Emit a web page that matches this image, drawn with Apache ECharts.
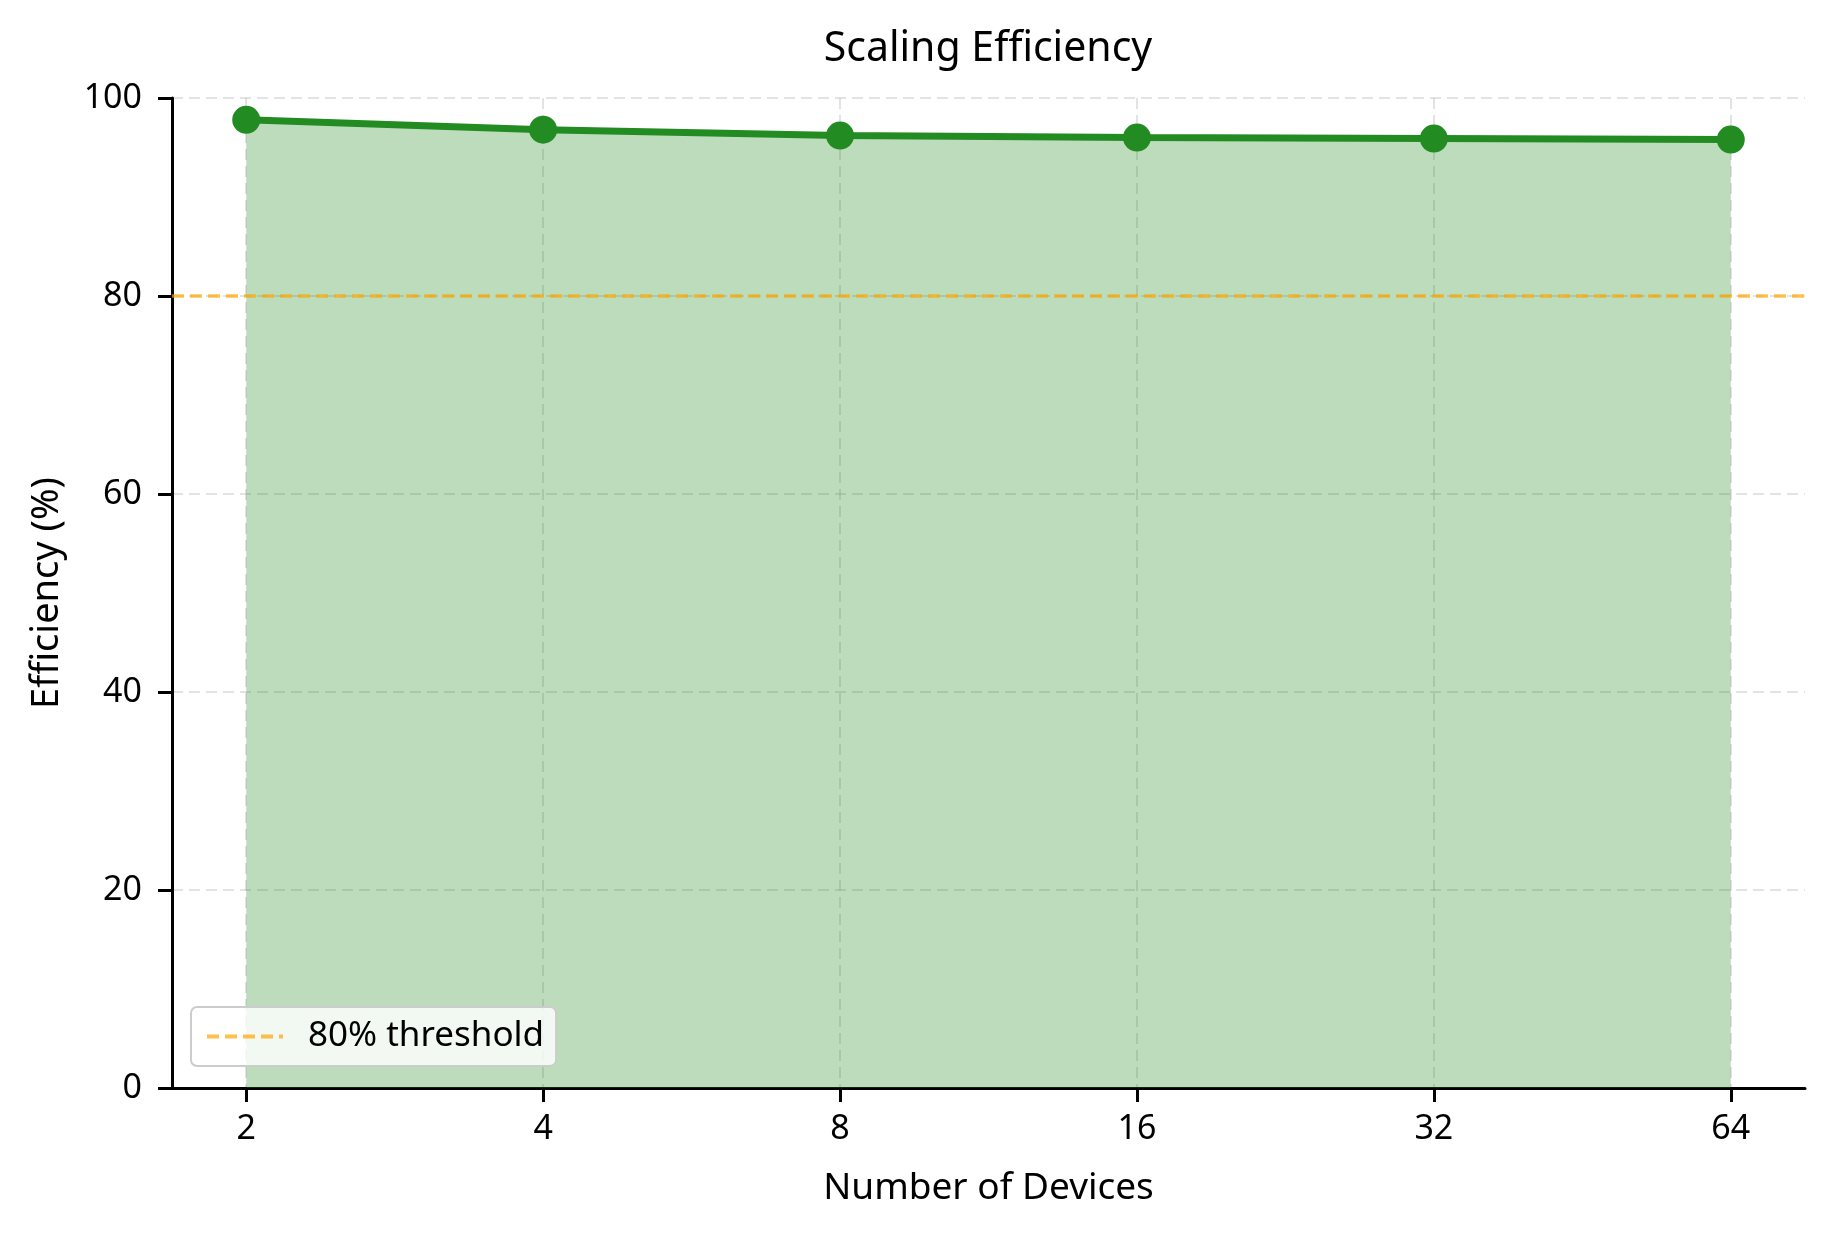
<!DOCTYPE html>
<html>
<head>
<meta charset="utf-8">
<script src="https://cdn.jsdelivr.net/npm/echarts@6/dist/echarts.min.js"></script>
<style>
html,body{margin:0;padding:0;background:#fff;}
#chart{width:1834px;height:1234px;}
</style>
</head>
<body>
<div id="chart"></div>
<script>
// Data
const devices = [2, 4, 8, 16, 32, 64];
const efficiency = [97.8, 96.8, 96.2, 96.0, 95.9, 95.8];
const thresholdValue = 80;
const thresholdLabel = '80% threshold';
const yTicks = [0, 20, 40, 60, 80, 100];

const FONT = '"Noto Sans", "DejaVu Sans", sans-serif';
const xTickVals = devices.map(d => Math.log2(d));
const seriesData = devices.map((d, i) => [Math.log2(d), efficiency[i]]);

const chart = echarts.init(document.getElementById('chart'), null, {renderer: 'canvas'});
chart.setOption({
  backgroundColor: '#ffffff',
  animation: false,
  textStyle: {fontFamily: FONT},
  graphic: [{
    type: 'text',
    x: 988, y: 49,
    style: {
      text: 'Scaling Efficiency',
      font: '41px ' + FONT,
      fill: '#000',
      textAlign: 'center',
      textVerticalAlign: 'middle'
    }
  }],
  grid: {left: 172, right: 29, top: 98, bottom: 146, containLabel: false},
  legend: {
    data: [thresholdLabel],
    left: 191, top: 1007,
    backgroundColor: 'rgba(255,255,255,0.8)',
    borderColor: '#cccccc',
    borderWidth: 2,
    borderRadius: 6,
    padding: [12, 12, 12, 14],
    itemWidth: 76,
    itemHeight: 14,
    itemStyle: {opacity: 0},
    lineStyle: {color: 'rgba(255,165,0,0.7)', width: 4, type: [12, 6]},
    textStyle: {fontFamily: FONT, fontSize: 35, color: '#000', padding: [0, 0, 0, 20]}
  },
  xAxis: {
    type: 'value',
    min: 0.75, max: 6.25,
    name: 'Number of Devices',
    nameLocation: 'middle',
    nameGap: 82,
    nameTextStyle: {fontFamily: FONT, fontSize: 37, color: '#000'},
    axisLine: {show: true, onZero: false, lineStyle: {color: '#000', width: 3}},
    axisTick: {show: true, customValues: xTickVals, length: 14, lineStyle: {color: '#000', width: 3}},
    axisLabel: {
      customValues: xTickVals,
      margin: 24,
      fontSize: 34, color: '#000', fontFamily: FONT,
      formatter: v => String(Math.round(Math.pow(2, v)))
    },
    splitLine: {show: true, lineStyle: {color: 'rgba(176,176,176,0.35)', width: 2, type: [11, 6]}}
  },
  yAxis: {
    type: 'value',
    min: 0, max: 100, interval: 20,
    name: 'Efficiency (%)',
    nameLocation: 'middle',
    nameGap: 106,
    nameTextStyle: {fontFamily: FONT, fontSize: 38, color: '#000'},
    axisLine: {show: true, lineStyle: {color: '#000', width: 3}},
    axisTick: {show: true, length: 14, lineStyle: {color: '#000', width: 3}},
    axisLabel: {margin: 30, fontSize: 34, color: '#000', fontFamily: FONT},
    splitLine: {show: true, lineStyle: {color: 'rgba(176,176,176,0.35)', width: 2, type: [11, 6]}}
  },
  series: [
    {
      name: 'Efficiency',
      type: 'line',
      data: seriesData,
      symbol: 'circle',
      symbolSize: 28,
      lineStyle: {color: '#228B22', width: 7},
      itemStyle: {color: '#228B22'},
      areaStyle: {color: 'rgba(34,139,34,0.3)', opacity: 1, origin: 'start'},
      z: 3
    },
    {
      name: thresholdLabel,
      type: 'line',
      data: [],
      symbol: 'none',
      lineStyle: {color: 'rgba(255,165,0,0.7)', width: 3.5, type: [12, 6]},
      itemStyle: {color: 'rgba(255,165,0,0.7)'},
      markLine: {
        silent: true,
        symbol: 'none',
        label: {show: false},
        lineStyle: {color: 'rgba(255,165,0,0.7)', width: 3.5, type: [12, 6]},
        data: [{yAxis: thresholdValue}]
      },
      z: 4
    }
  ]
});
</script>
</body>
</html>
